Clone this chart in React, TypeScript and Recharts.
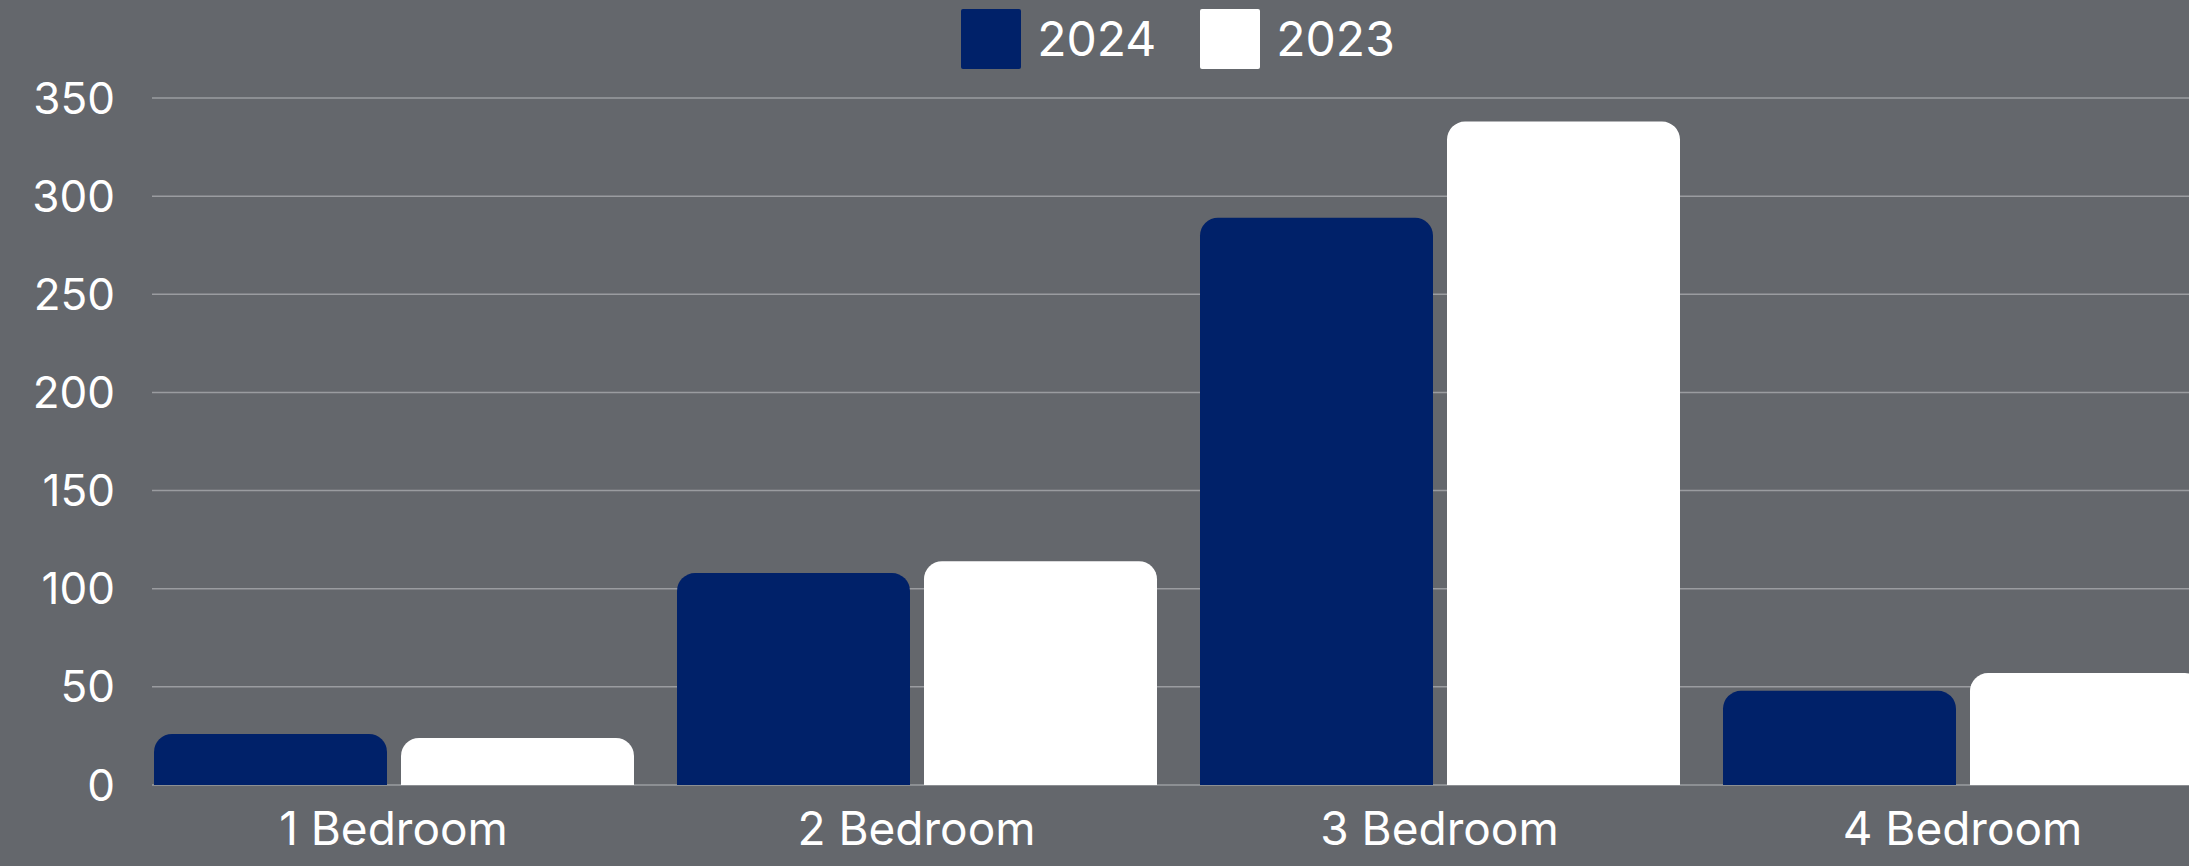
import { BarChart, Bar, XAxis, YAxis, CartesianGrid, Legend } from 'recharts';

const categories = ['1 Bedroom', '2 Bedroom', '3 Bedroom', '4 Bedroom'];
const values2024 = [26, 108, 289, 48];
const values2023 = [24, 114, 338, 57];
const yTicks = [0, 50, 100, 150, 200, 250, 300, 350];

const series = [
  { key: 'y2024', name: '2024', color: '#002169' },
  { key: 'y2023', name: '2023', color: '#ffffff' },
];

const data = categories.map((name, i) => ({
  name,
  y2024: values2024[i],
  y2023: values2023[i],
}));

const BG = '#64676c';
const FONT = 'Inter, "Noto Sans", sans-serif';

function LegendContent() {
  return (
    <div style={{ display: 'flex', justifyContent: 'center', alignItems: 'center', gap: 44 }}>
      {series.map((s) => (
        <div key={s.key} style={{ display: 'flex', alignItems: 'center', gap: 16 }}>
          <div style={{ width: 60, height: 60, background: s.color, borderRadius: 2 }} />
          <span style={{ color: '#fff', fontSize: 48, fontFamily: FONT, lineHeight: 1 }}>{s.name}</span>
        </div>
      ))}
    </div>
  );
}

export default function App() {
  return (
    <div
      style={{
        position: 'fixed',
        left: 0,
        top: 0,
        width: 2189,
        height: 866,
        overflow: 'hidden',
        background: BG,
      }}
    >
      <BarChart
        width={2240}
        height={866}
        data={data}
        margin={{ top: 20, right: 16, bottom: 0, left: 0 }}
        barGap={14}
        barSize={233}
      >
        <CartesianGrid vertical={false} stroke="#9a9ca0" strokeWidth={1.5} x={152} width={2100} />
        <Legend
          verticalAlign="top"
          align="center"
          height={78}
          wrapperStyle={{ left: 0, width: 2356, top: 9 }}
          content={<LegendContent />}
        />
        <XAxis
          dataKey="name"
          height={81}
          tickLine={false}
          axisLine={false}
          tickMargin={21}
          tick={{ fill: '#ffffff', fontSize: 46, fontFamily: FONT }}
        />
        <YAxis
          width={132}
          domain={[0, 350]}
          ticks={yTicks}
          axisLine={false}
          tickLine={false}
          tickSize={0}
          tickMargin={17}
          tick={{ fill: '#ffffff', fontSize: 44, fontFamily: FONT }}
        />
        {series.map((s) => (
          <Bar
            key={s.key}
            dataKey={s.key}
            name={s.name}
            fill={s.color}
            radius={[18, 18, 0, 0]}
            isAnimationActive={false}
          />
        ))}
      </BarChart>
    </div>
  );
}
